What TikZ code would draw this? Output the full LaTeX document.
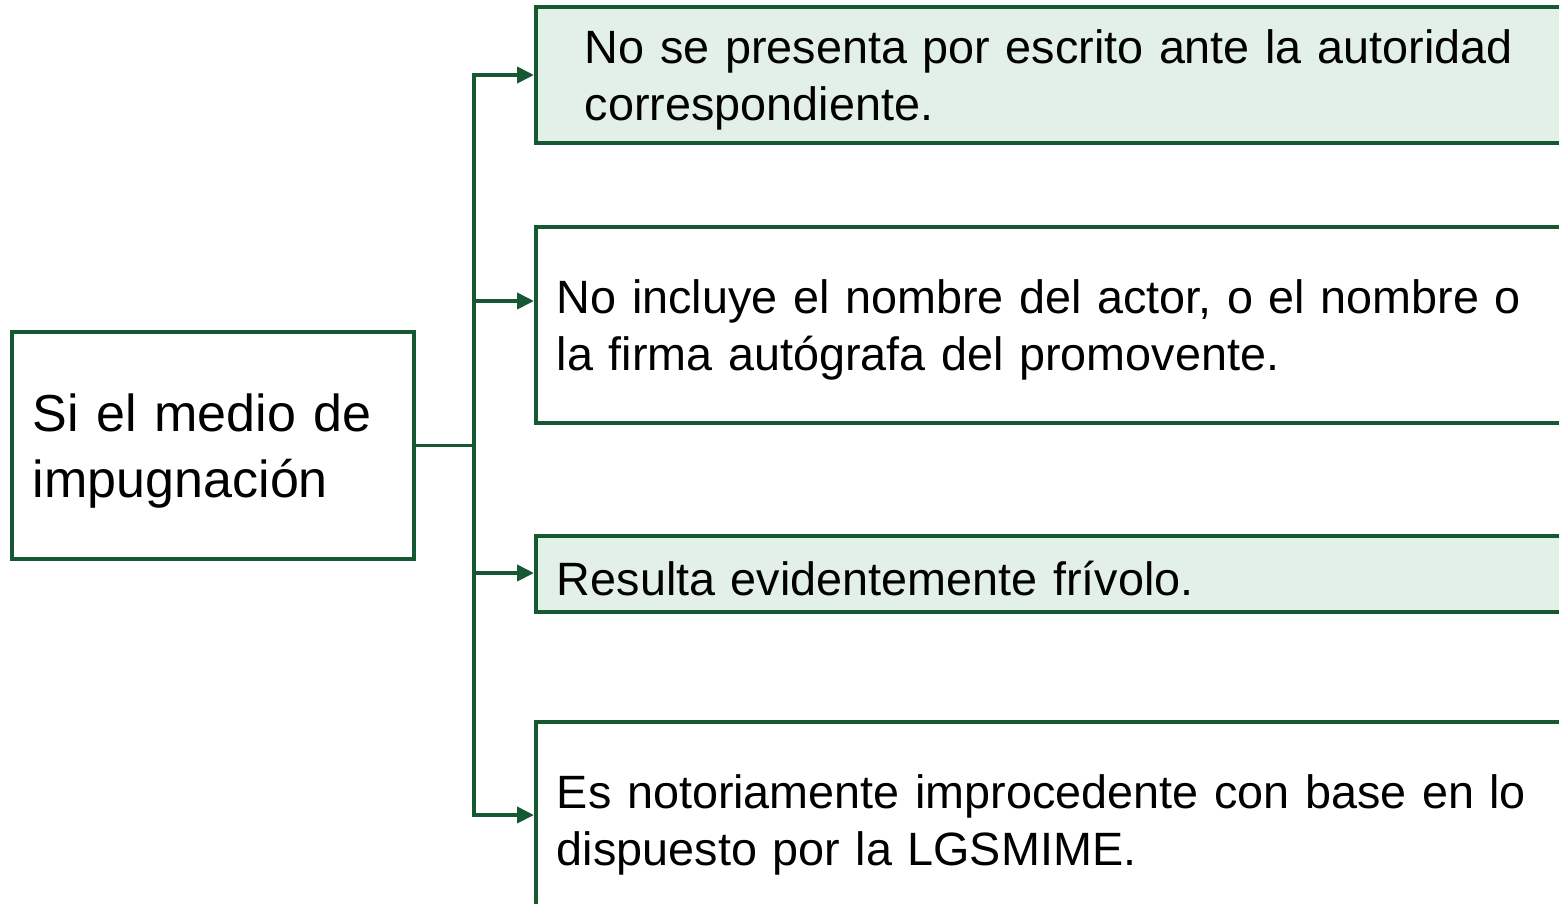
\documentclass[tikz,border=0pt]{standalone}
\usepackage{fontspec}
\setmainfont{Liberation Sans}
\usetikzlibrary{arrows.meta}
\definecolor{verde}{RGB}{22,88,50}
\definecolor{verdeclaro}{RGB}{226,240,232}

\begin{document}
\begin{tikzpicture}
    [%%%%%%%%%%%%%%%%%%%%%%%%%%%%%%
        caja/.style={rectangle,draw=verde,line width=1.1pt,anchor=west,align=left,
            inner xsep=0.21cm,text width=10.24cm,font=\fontsize{13.3}{16.2}\selectfont,
            execute at begin node={\rule{0pt}{0.44cm}}},
        origen/.style={rectangle,draw=verde,line width=1.1pt,align=left,
            inner xsep=0.21cm,text width=3.6cm,minimum height=2.27cm,
            font=\fontsize{14.8}{18.8}\selectfont,
            execute at begin node={\rule{0pt}{0.48cm}}},
        linea/.style={draw=verde,line width=1.1pt},
        flecha/.style={linea,-{Triangle[length=0.17cm,width=0.16cm]}},
    ]%%%%%%%%%%%%%%%%%%%%%%%%%%%%%%

\clip (0,0) rectangle (15.59,-9.03);

\node[origen] (src) at (2.13,-4.455) {Si el medio de\\impugnación};

\node[caja,fill=verdeclaro,minimum height=1.36cm,inner xsep=0.49cm,text width=9.68cm] (c1) at (5.34,-0.75)
    {No se presenta por escrito ante la autoridad\\correspondiente.};
\node[caja,minimum height=1.96cm] (c2) at (5.34,-3.25)
    {No incluye el nombre del actor, o el nombre o\\la firma autógrafa del promovente.};
\node[caja,fill=verdeclaro,minimum height=0.76cm] (c3) at (5.34,-5.74)
    {Resulta evidentemente frívolo.};
\node[caja,minimum height=1.96cm] (c4) at (5.34,-8.20)
    {Es notoriamente improcedente con base en lo\\dispuesto por la LGSMIME.};

\coordinate (t1) at (4.74,-0.75);
\coordinate (t2) at (4.74,-3.01);
\coordinate (t3) at (4.74,-5.73);
\coordinate (t4) at (4.74,-8.15);

\draw[linea,line cap=rect] (t1) -- (t4);
\draw[linea] (src.east) -- (src.east -| t1);
\foreach \i in {1,...,4}
    \draw[flecha] (t\i) -- (t\i -| c\i.west);
\end{tikzpicture}
\end{document}
